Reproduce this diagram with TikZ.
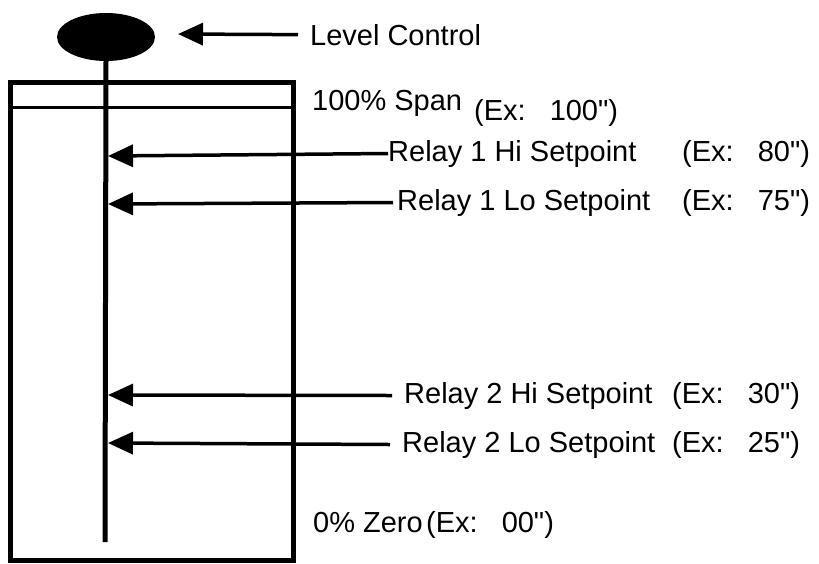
\documentclass[tikz,border=0pt]{standalone}
\usepackage{fontspec}
\setmainfont{Liberation Sans}
\usetikzlibrary{arrows.meta,shapes.geometric}

\newcommand{\exgap}{\hspace{24pt}}

\begin{document}
\begin{tikzpicture}[x=1pt,y=-1pt,
    lbl/.style={anchor=base west, inner sep=0pt, font=\fontsize{29}{32}\selectfont},
    ptr/.style={line width=3.5pt, -{Triangle[length=25pt,width=22pt]}}]
  \useasboundingbox (0,0) rectangle (819,563);
  % tank and float
  \node[ellipse, fill=black, minimum width=98pt, minimum height=48pt, inner sep=0pt] (float) at (106,37) {};
  \draw[line width=5pt] (10,82) rectangle (293,560);
  \draw[line width=3pt] (10,107) -- (293,107);
  \coordinate (bot) at (105,542);
  \draw[line width=5pt] (float.south) -- (bot);
  % points on the stem
  \coordinate (lvltip) at (178,34);
  \coordinate (s1) at (108,156);
  \coordinate (s2) at (108,204);
  \coordinate (s3) at (108,395);
  \coordinate (s4) at (108,443);
  % labels
  \node[lbl] (lvl) at (310,45) {Level Control};
  \node[lbl] (span) at (312,110) {100\% Span};
  \node[lbl] (spanex) at (474,120) {(Ex:\exgap 100\textquotedbl)};
  \node[lbl] (r1h) at (388,161) {Relay 1 Hi Setpoint};
  \node[lbl] (r1hex) at (682,161) {(Ex:\exgap 80\textquotedbl)};
  \node[lbl] (r1l) at (397,210) {Relay 1 Lo Setpoint};
  \node[lbl] (r1lex) at (682,210) {(Ex:\exgap 75\textquotedbl)};
  \node[lbl] (r2h) at (404,403) {Relay 2 Hi Setpoint};
  \node[lbl] (r2hex) at (672,403) {(Ex:\exgap 30\textquotedbl)};
  \node[lbl] (r2l) at (402,452) {Relay 2 Lo Setpoint};
  \node[lbl] (r2lex) at (672,452) {(Ex:\exgap 25\textquotedbl)};
  \node[lbl] (zero) at (313,532) {0\% Zero};
  \node[lbl] (zeroex) at (426,532) {(Ex:\exgap 00\textquotedbl)};
  % pointers
  \draw[ptr] ([xshift=-12pt]lvl.west) -- (lvltip);
  \draw[ptr] (r1h.west) -- (s1);
  \draw[ptr] ([xshift=-4pt]r1l.west) -- (s2);
  \draw[ptr] ([xshift=-12pt]r2h.west) -- (s3);
  \draw[ptr] ([xshift=-12pt]r2l.west) -- (s4);
\end{tikzpicture}
\end{document}
